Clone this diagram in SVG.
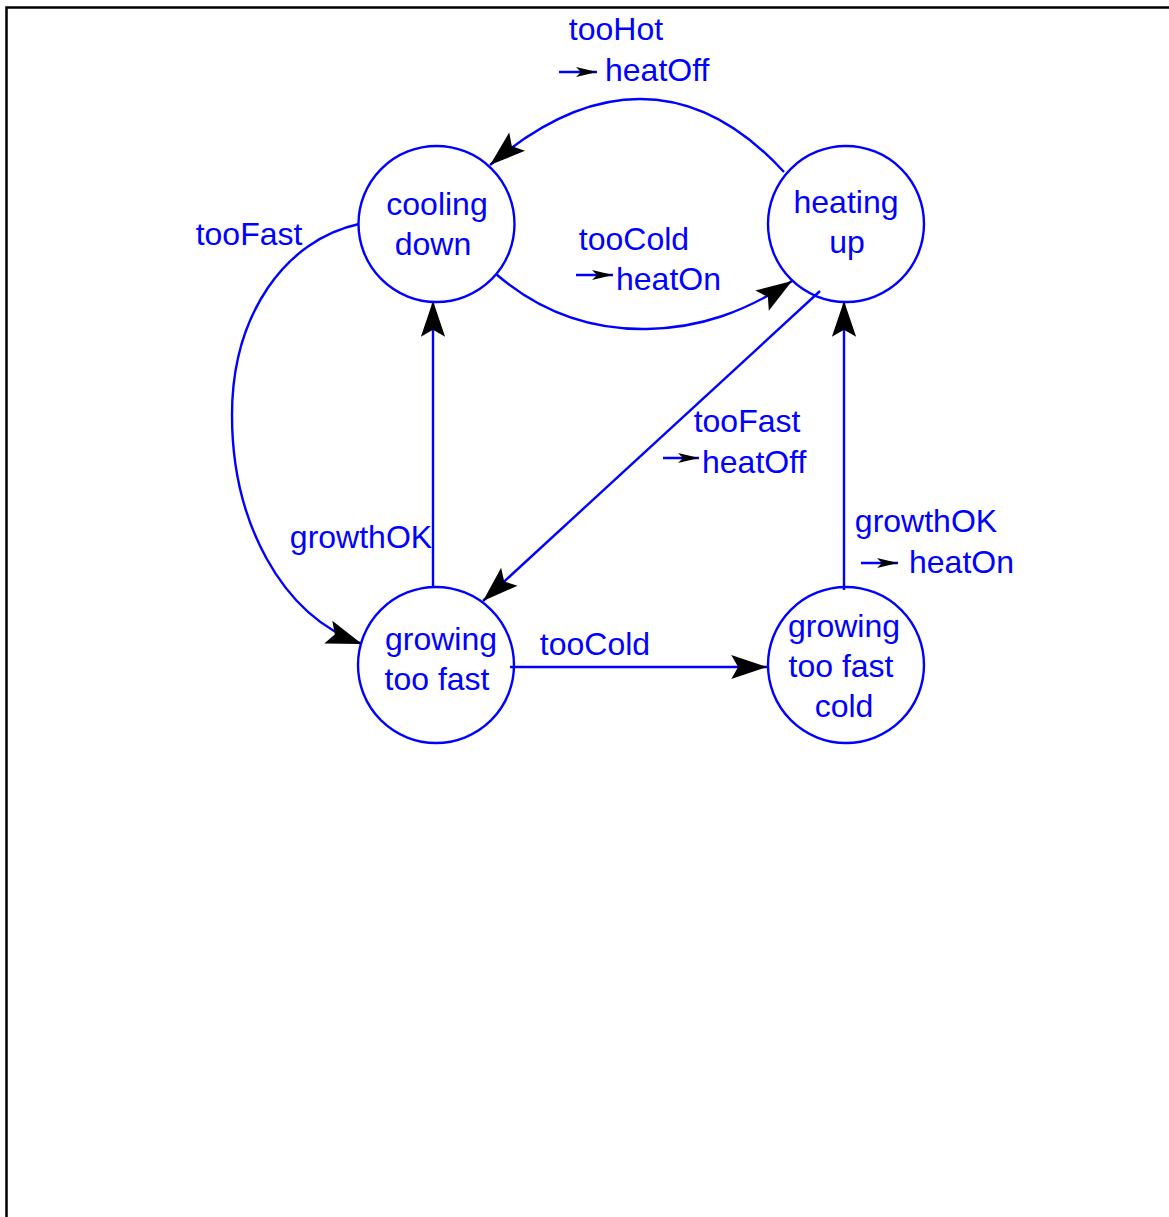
<svg xmlns="http://www.w3.org/2000/svg" width="1169" height="1217" viewBox="0 0 1169 1217">
<style>
text{font-family:"Liberation Sans",Arial,sans-serif;font-size:32px;fill:#0000ff}
.node circle{fill:none;stroke:#0000ff;stroke-width:2.4}
.edge{fill:none;stroke:#0000ff;stroke-width:2.4}
.mini{fill:none;stroke:#0000ff;stroke-width:2.4}
</style>
<defs>
<marker id="ah" markerUnits="userSpaceOnUse" markerWidth="40" markerHeight="30" viewBox="-32 -13 34 26" refX="0" refY="0" orient="auto">
<path d="M0,0 L-31,-10.5 L-25,0 L-31,10.5 Z" fill="#000"/>
</marker>
<marker id="sh" markerUnits="userSpaceOnUse" markerWidth="24" markerHeight="12" viewBox="-22 -6 23 12" refX="0" refY="0" orient="auto">
<path d="M0,0 L-21,-5 L-16,0 L-21,5 Z" fill="#000"/>
</marker>
</defs>
<path d="M6.5,1217 V7.5 H1169" fill="none" stroke="#000" stroke-width="2.5"/>
<g id="connectors">
<path class="edge" d="M784,172 C740,124 692,99 640,99 C590,99 540,122 490,165" marker-end="url(#ah)"/>
<path class="edge" d="M496,274 C540,312 590,330 647,329 C700,328 745,312 792,281" marker-end="url(#ah)"/>
<path class="edge" d="M359,224 C285,240 232,315 232,415 C232,520 280,615 362,644" marker-end="url(#ah)"/>
<path class="edge" d="M433,588 V301" marker-end="url(#ah)"/>
<path class="edge" d="M820,291 L483,601" marker-end="url(#ah)"/>
<path class="edge" d="M510,667 H767" marker-end="url(#ah)"/>
<path class="edge" d="M844,590 V301" marker-end="url(#ah)"/>
</g>
<g id="labels">
<text x="616" y="40" text-anchor="middle">tooHot</text>
<path class="mini" d="M559,72 H597" marker-end="url(#sh)"/>
<text x="605" y="81">heatOff</text>
<text x="634" y="250" text-anchor="middle">tooCold</text>
<path class="mini" d="M576,275 H613" marker-end="url(#sh)"/>
<text x="616" y="290">heatOn</text>
<text x="249" y="245" text-anchor="middle">tooFast</text>
<text x="747" y="432" text-anchor="middle">tooFast</text>
<path class="mini" d="M663,458 H699" marker-end="url(#sh)"/>
<text x="702" y="473">heatOff</text>
<text x="361" y="548" text-anchor="middle">growthOK</text>
<text x="926" y="532" text-anchor="middle">growthOK</text>
<path class="mini" d="M861,563 H898" marker-end="url(#sh)"/>
<text x="909" y="573">heatOn</text>
<text x="595" y="655" text-anchor="middle">tooCold</text>
</g>
<g id="cooling-down" class="node">
<circle cx="436.5" cy="224" r="78"/>
<text x="437" y="215" text-anchor="middle">cooling</text>
<text x="433" y="255" text-anchor="middle">down</text>
</g>
<g id="heating-up" class="node">
<circle cx="846" cy="224" r="78"/>
<text x="846" y="213" text-anchor="middle">heating</text>
<text x="847" y="253" text-anchor="middle">up</text>
</g>
<g id="growing-too-fast" class="node">
<circle cx="436" cy="665" r="78"/>
<text x="441" y="650" text-anchor="middle">growing</text>
<text x="437" y="690" text-anchor="middle">too fast</text>
</g>
<g id="growing-too-fast-cold" class="node">
<circle cx="846" cy="665" r="78"/>
<text x="844" y="637" text-anchor="middle">growing</text>
<text x="841" y="677" text-anchor="middle">too fast</text>
<text x="844" y="717" text-anchor="middle">cold</text>
</g>
</svg>
